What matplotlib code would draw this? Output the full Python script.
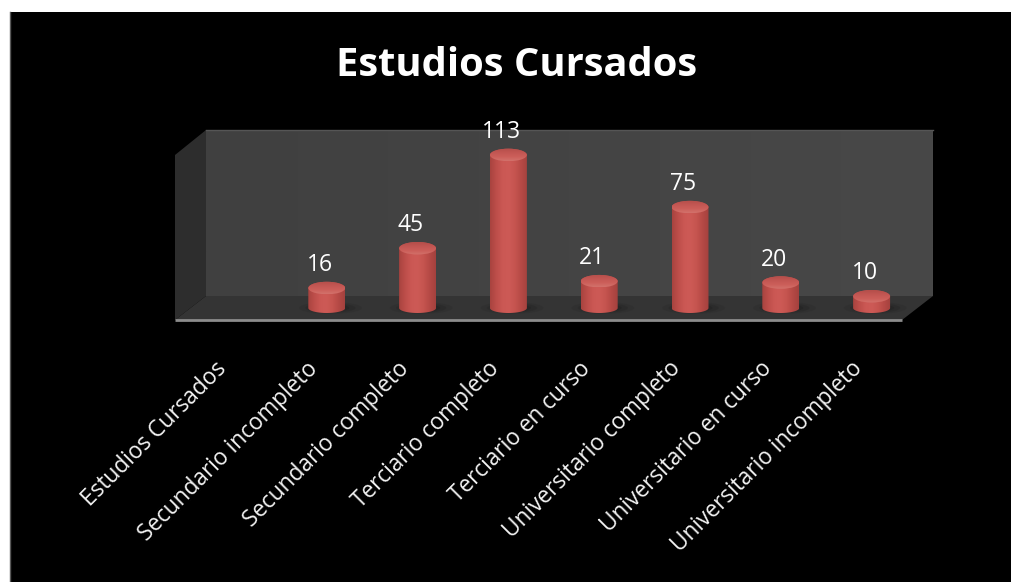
import numpy as np
import matplotlib
matplotlib.use("Agg")
import matplotlib.pyplot as plt
from matplotlib.patches import Polygon, Rectangle, Ellipse, PathPatch
from matplotlib.path import Path
from matplotlib.transforms import ScaledTranslation
from matplotlib.colors import LinearSegmentedColormap

categories = ["Estudios Cursados", "Secundario incompleto", "Secundario completo",
              "Terciario completo", "Terciario en curso", "Universitario completo",
              "Universitario en curso", "Universitario incompleto"]
values = [None, 16, 45, 113, 21, 75, 20, 10]
title = "Estudios Cursados"

W, H = 1011, 582
plt.rcParams['font.family'] = ['Open Sans', 'DejaVu Sans']
fig = plt.figure(figsize=(W / 100, H / 100), dpi=100, facecolor='white')

# pixel-space background layer (panel and 3D walls)
bg = fig.add_axes([0, 0, 1, 1], zorder=0)
bg.set_xlim(0, W); bg.set_ylim(H, 0); bg.axis('off')
bg.add_patch(Rectangle((10, 12), W - 10 + 5, H - 12 + 5, fc='black', ec='none'))
bg.plot([9.5, 9.5], [12, H], color='#5a5a5a', lw=1)

wall_cmap = LinearSegmentedColormap.from_list('w', ['#404040', '#484848'])
im = bg.imshow(np.linspace(0, 1, 256)[None, :], extent=(206, 933, 296, 130), cmap=wall_cmap,
               aspect='auto', zorder=1)
bg.set_xlim(0, W); bg.set_ylim(H, 0)
bg.add_patch(Polygon([(175, 155), (206, 130), (206, 296), (175, 320)], fc='#2d2d2d', ec='none', zorder=1))
bg.add_patch(Polygon([(175, 320), (206, 296), (933, 296), (902, 320)], fc='#343434', ec='none', zorder=1))
bg.plot([206, 933], [130, 130], color='#555555', lw=1, zorder=1)
bg.plot([175, 902], [320, 320], color='#8c8c8c', lw=2, zorder=2, solid_capstyle='butt')

# data axes: category 0 centre at 236 px, 90.8 px per category; value 0 at 310 px, 1.372 px per unit
x0_px, dx_px = 236.0, 90.8
y0_px, dy_px = 310.0, 1.372
ax_left, ax_right = x0_px - 0.5 * dx_px, x0_px + 7.5 * dx_px
ax_bot_px, ax_top_px = 340.0, 110.0
ax = fig.add_axes([ax_left / W, 1 - ax_bot_px / H, (ax_right - ax_left) / W, (ax_bot_px - ax_top_px) / H],
                  zorder=2)
ax.patch.set_alpha(0)
ax.set_xlim(-0.5, 7.5)
ax.set_ylim((y0_px - ax_bot_px) / dy_px, (y0_px - ax_top_px) / dy_px)
for s in ax.spines.values():
    s.set_visible(False)
ax.set_yticks([])

body_cmap = LinearSegmentedColormap.from_list('b', ['#a8433f', '#bd4e4a', '#cb5854', '#cd5a56', '#c5544f', '#b54945', '#a3413e'])
top_cmap = LinearSegmentedColormap.from_list('t', ['#b44e4a', '#c25652', '#cc5f5a', '#d2716b'])
half_w = 18.5 / dx_px
top_h = 12.5 / dy_px      # top ellipse full height (data units)
bot_h = 10.0 / dy_px      # bottom ellipse full height (data units)
bot_c = 2.0 / dy_px       # bottom ellipse centre above the zero line
grad = np.linspace(0, 1, 256)[None, :]

for i, v in enumerate(values):
    if v is None:
        continue
    # floor shadow
    for k, a in zip([1.0, 0.8, 0.6], [0.10, 0.15, 0.22]):
        ax.add_patch(Ellipse((i + 0.04, 1.5), 2 * half_w * 1.7 * k, bot_h * 1.2 * k, fc='#151515', ec='none',
                             alpha=a, zorder=2))
    t = np.linspace(0, np.pi, 40)
    xs = i + half_w * np.cos(t)
    top_arc = v + top_h / 2 * np.sin(t)
    bot_arc = bot_c - bot_h / 2 * np.sin(t)
    verts = list(zip(xs, top_arc)) + list(zip(xs[::-1], bot_arc[::-1]))
    clip = PathPatch(Path(verts + [verts[0]], closed=False), transform=ax.transData, fc='none', ec='none')
    ax.add_patch(clip)
    body = ax.imshow(grad, extent=(i - half_w, i + half_w, -bot_h, v + top_h), cmap=body_cmap,
                     aspect='auto', zorder=3, origin='lower')
    body.set_clip_path(clip)
    top = Ellipse((i, v), 2 * half_w, top_h, transform=ax.transData, fc='none', ec='none')
    ax.add_patch(top)
    cap = ax.imshow(np.linspace(0, 1, 64)[:, None], extent=(i - half_w, i + half_w, v - top_h / 2, v + top_h / 2),
                    cmap=top_cmap, aspect='auto', zorder=4, origin='lower' if False else 'upper')
    cap.set_clip_path(top)
    ax.annotate(str(v), (i, v), xytext=(-7 * 0.72, 23 * 0.72), textcoords='offset points',
                ha='center', va='center', color='white', fontsize=16.5, zorder=6, annotation_clip=False)

ax.set_xlim(-0.5, 7.5)
ax.set_ylim((y0_px - ax_bot_px) / dy_px, (y0_px - ax_top_px) / dy_px)
ax.set_xticks(range(len(categories)))
ax.set_xticklabels(categories, rotation=45, ha='right', rotation_mode='anchor',
                   color='#f2f2f2', fontsize=16.3)
ax.tick_params(axis='x', length=0, pad=12)
shift = ScaledTranslation(-21 / 100, 0, fig.dpi_scale_trans)
for lab in ax.get_xticklabels():
    lab.set_transform(lab.get_transform() + shift)

fig.text(517 / W, 1 - 65 / H, title, ha='center', va='center', color='white',
         fontsize=28.7, fontweight='bold')

fig.savefig('out.png', dpi=100, facecolor='white')
